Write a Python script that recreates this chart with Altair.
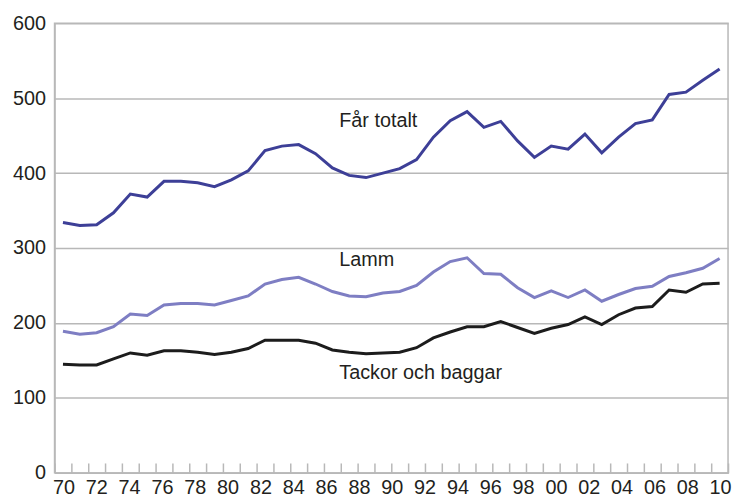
import altair as alt
import pandas as pd

# 40 annual observations, plotted in order (index 0..39)
obs = list(range(40))

far_totalt = [334, 330, 331, 347, 372, 368, 389, 389, 387, 382,
              391, 403, 430, 436, 438, 426, 407, 397, 394, 400,
              406, 418, 448, 470, 482, 461, 469, 443, 421, 436,
              432, 452, 427, 448, 466, 471, 505, 508, 524, 539]

lamm = [189, 185, 187, 195, 212, 210, 224, 226, 226, 224,
        230, 236, 252, 258, 261, 252, 242, 236, 235, 240,
        242, 250, 268, 282, 287, 266, 265, 247, 234, 243,
        234, 244, 229, 238, 246, 249, 262, 267, 273, 286]

tackor = [145, 144, 144, 152, 160, 157, 163, 163, 161, 158,
          161, 166, 177, 177, 177, 173, 164, 161, 159, 160,
          161, 167, 180, 188, 195, 195, 202, 194, 186, 193,
          198, 208, 198, 211, 220, 222, 244, 241, 252, 253]

series_names = ["Får totalt", "Lamm", "Tackor och baggar"]
series_colors = ["#3d3f97", "#7e7ec3", "#1c1c1c"]

year_ticks = list(range(1970, 2011, 2))

# annotation labels (year-axis x, value-axis y baseline)
label_text = ["Får totalt", "Lamm", "Tackor och baggar"]
label_x = [1986.8, 1986.8, 1986.8]
label_y = [461, 276, 125]

rows = []
for name, vals in zip(series_names, [far_totalt, lamm, tackor]):
    for i, v in zip(obs, vals):
        rows.append({"obs": i, "value": v, "serie": name})
df = pd.DataFrame(rows)
lab = pd.DataFrame({"text": label_text, "year": label_x, "value": label_y})

GRID = "#b8b8b8"
FONT = "Liberation Sans"
TXT = "#231f20"

yscale = alt.Scale(domain=[0, 600], nice=False)


def yaxis():
    return alt.Axis(values=[0, 100, 200, 300, 400, 500, 600], grid=True, gridColor=GRID,
                    gridWidth=1.5, domain=True, domainColor=GRID, domainWidth=1.5,
                    ticks=False, labelFontSize=20, labelFont=FONT, labelColor=TXT,
                    labelPadding=9, title=None)


lines = alt.Chart(df).mark_line(strokeWidth=3).encode(
    x=alt.X("obs:Q", scale=alt.Scale(domain=[-0.5, 39.5], nice=False, zero=False),
            axis=alt.Axis(orient="bottom", values=[k - 0.5 for k in range(41)],
                          labels=False, domain=False, ticks=True, tickSize=10,
                          tickColor=GRID, tickWidth=1.5, offset=-10, grid=False,
                          title=None)),
    y=alt.Y("value:Q", scale=yscale, axis=yaxis()),
    color=alt.Color("serie:N", scale=alt.Scale(domain=series_names, range=series_colors),
                    legend=None),
)

labels = alt.Chart(lab).mark_text(align="left", baseline="alphabetic", fontSize=20,
                                  font=FONT, color=TXT).encode(
    x=alt.X("year:Q", scale=alt.Scale(domain=[1969.457, 2010.483], nice=False, zero=False),
            axis=alt.Axis(orient="bottom", values=year_ticks,
                          labelExpr="substring(toString(datum.value), 2, 4)",
                          ticks=False, domain=True, domainColor=GRID, domainWidth=1.5,
                          labelFontSize=20, labelFont=FONT, labelColor=TXT,
                          labelPadding=5, labelFlush=False, labelOverlap=False,
                          grid=False, title=None)),
    y=alt.Y("value:Q", scale=yscale, axis=yaxis()),
    text="text:N",
)

chart = alt.layer(lines, labels).resolve_scale(x="independent").resolve_axis(
    x="independent"
).properties(
    width=680, height=454,
    autosize=alt.AutoSizeParams(type="none"),
    padding={"left": 47, "top": 13, "right": 4, "bottom": 22},
).configure_view(stroke=GRID, strokeWidth=1.5)

chart.save("out.html", embed_options={"renderer": "svg", "actions": False})
